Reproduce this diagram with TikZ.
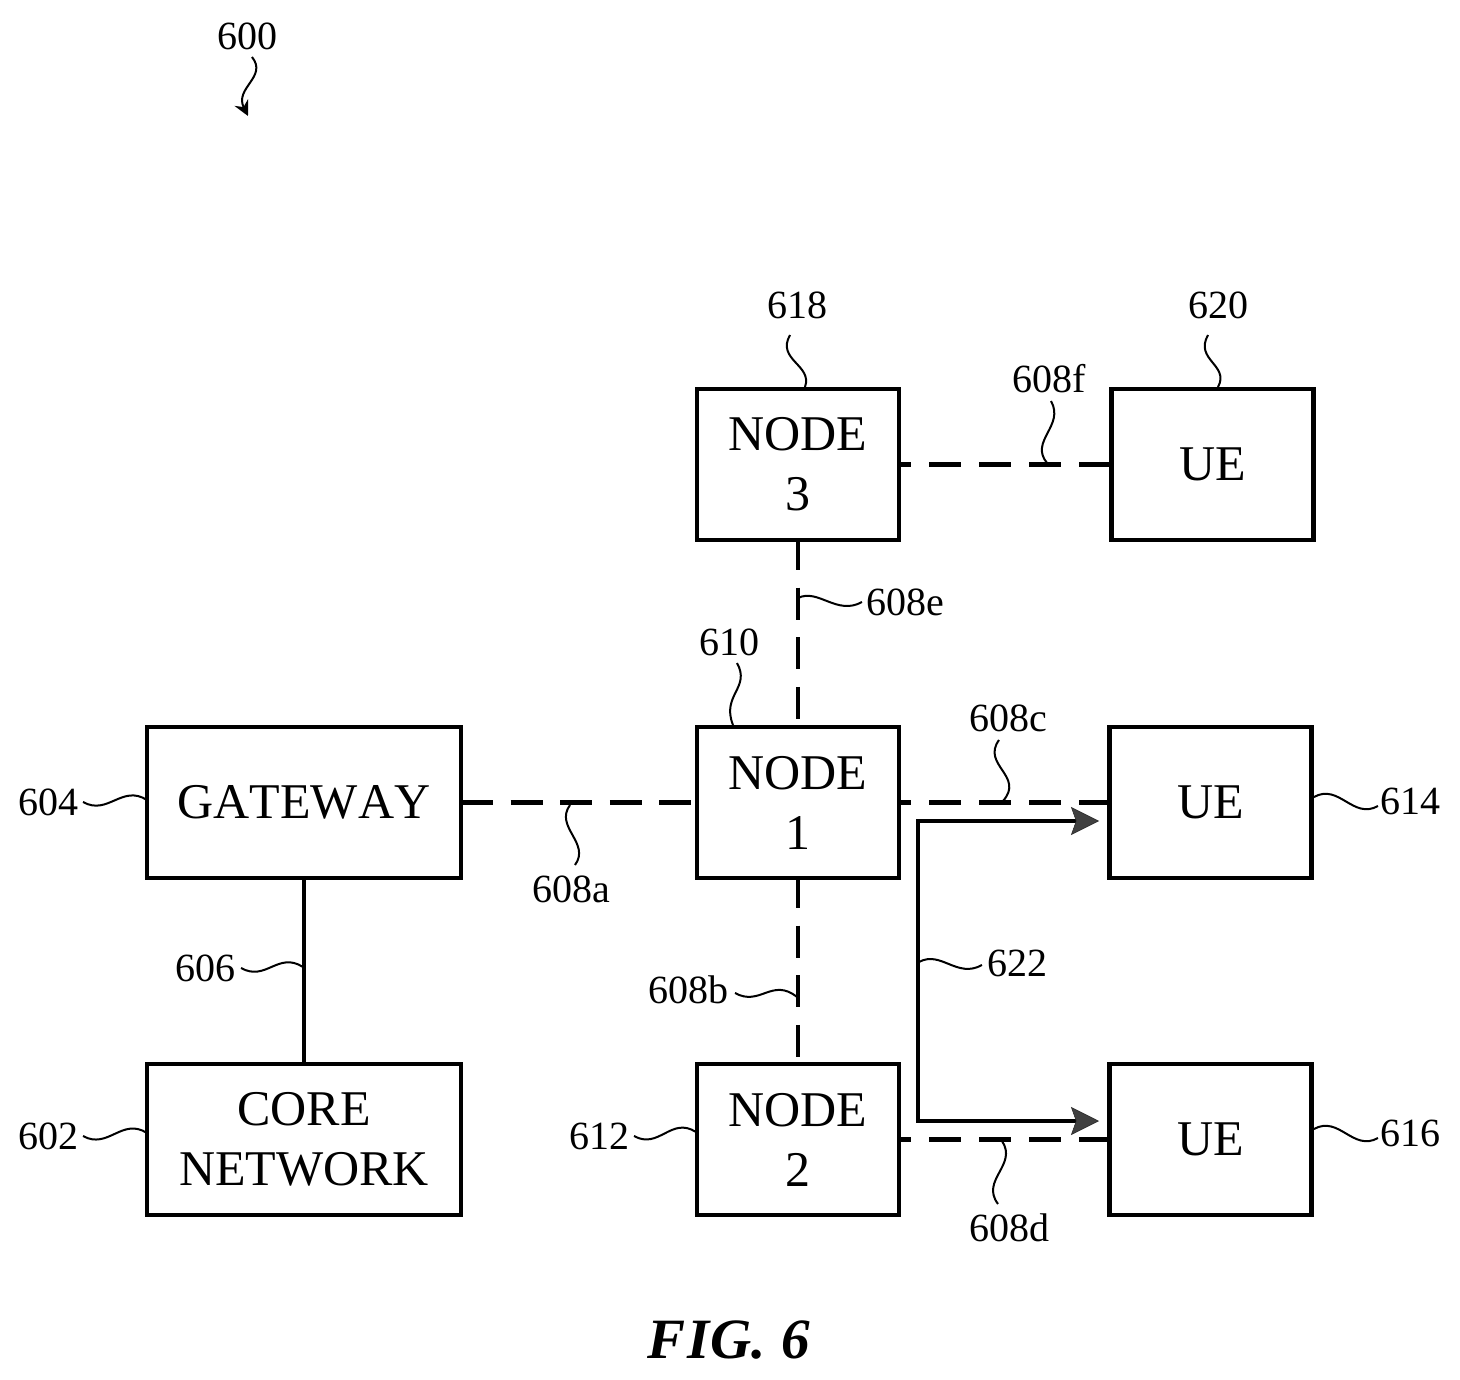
\documentclass[tikz,border=0pt]{standalone}
\usepackage{fontspec}
\setmainfont{Liberation Serif}
\usetikzlibrary{arrows.meta}
\tikzset{
  blockbox/.style={draw=black,line width=4.5pt,fill=white,inner sep=0pt,outer sep=0pt,align=center,
    font=\fontsize{50}{60}\selectfont},
  widebox/.style={blockbox,minimum width=314pt,minimum height=151pt},
  narrowbox/.style={blockbox,minimum width=202pt,minimum height=151pt},
  reflabel/.style={inner sep=0pt,outer sep=0pt,font=\fontsize{40}{44}\selectfont},
  solidlink/.style={line width=4.5pt},
  dashlink/.style={line width=4.5pt,dash pattern=on 32pt off 18pt,dash phase=20pt},
  longdashlink/.style={line width=4.5pt,dash pattern=on 32pt off 17.6pt,dash phase=#1},
  leader/.style={line width=2pt},
  flowhead/.tip={Stealth[length=28pt,width=28pt,inset=5pt,line width=0.5pt,fill=black!75,color=black!85]},
  flowlink/.style={line width=4.5pt,flowhead-flowhead},
}
\begin{document}
\begin{tikzpicture}[x=1pt,y=-1pt]
\useasboundingbox (0,0) rectangle (1460,1380);
\fill[white] (0,0) rectangle (1460,1380);

% blocks
\node[widebox,font=\fontsize{50}{60}\selectfont\addfontfeatures{Kerning=Off}] (gw) at (304,802.5) {GATEWAY};
\node[widebox] (core) at (304,1139.5) {CORE\\NETWORK};
\node[narrowbox] (n1) at (798,802.5) {NODE\\1};
\node[narrowbox] (n2) at (798,1139.5) {NODE\\2};
\node[narrowbox] (n3) at (798,464.5) {NODE\\3};
\node[narrowbox] (ue3) at (1212.5,464.5) {UE};
\node[narrowbox] (ue1) at (1210.5,802.5) {UE};
\node[narrowbox] (ue2) at (1210.5,1139.5) {UE};

% links
\draw[solidlink] (gw) -- (core);
\draw[longdashlink=0pt] (gw) -- (n1);
\draw[longdashlink=2pt] (n3) -- (n1);
\draw[longdashlink=2pt] (n1) -- (n2);
\draw[dashlink] (n1) -- (ue1);
\draw[dashlink] (n2) -- (ue2);
\draw[dashlink] (n3) -- (ue3);

% flow 622
\coordinate (ftop) at (1099,821);
\coordinate (fcornerA) at (918,821);
\coordinate (fcornerB) at (918,1121);
\coordinate (fbot) at (1099,1121);
\draw[flowlink] (ftop) -- (fcornerA) -- (fcornerB) -- (fbot);

% reference labels
\node[reflabel] (l600) at (247,36) {600};
\node[reflabel] (l618) at (797,305) {618};
\node[reflabel] (l620) at (1218,305) {620};
\node[reflabel] (l608f) at (1049,379) {608f};
\node[reflabel] (l608e) at (905,602) {608e};
\node[reflabel] (l610) at (729,642) {610};
\node[reflabel] (l608c) at (1008,718) {608c};
\node[reflabel] (l608a) at (571,889) {608a};
\node[reflabel] (l604) at (48,802) {604};
\node[reflabel] (l606) at (205,968) {606};
\node[reflabel] (l602) at (48,1136) {602};
\node[reflabel] (l608b) at (688,990) {608b};
\node[reflabel] (l622) at (1017,963) {622};
\node[reflabel] (l614) at (1410,801) {614};
\node[reflabel] (l612) at (599,1136) {612};
\node[reflabel] (l616) at (1410,1133) {616};
\node[reflabel] (l608d) at (1009,1228) {608d};
\node[inner sep=0pt,outer sep=0pt,font=\fontsize{57}{60}\selectfont\bfseries\itshape] (fig) at (729,1340) {F\kern1.5pt I\kern1.5pt G.\kern1.5pt\ 6};

% free ends of the leaders
\coordinate (e600) at (248,116);
\coordinate (e618) at (805,387);
\coordinate (e620) at (1218,387);
\coordinate (e608f) at (1047,463);
\coordinate (e608e) at (798,598);
\coordinate (e610) at (733,725);
\coordinate (e608c) at (1003,801);
\coordinate (e608a) at (570,805);
\coordinate (e604) at (147,800);
\coordinate (e606) at (303,967);
\coordinate (e602) at (147,1133);
\coordinate (e608b) at (797,997);
\coordinate (e622) at (919,962);
\coordinate (e614) at (1314,797);
\coordinate (e612) at (696,1132);
\coordinate (e616) at (1314,1129);
\coordinate (e608d) at (1002,1141);

% leaders
\draw[leader,-{Stealth[length=15pt,width=15pt,inset=5pt]}] (252,57) .. controls +(16,20) and +(-14,-28) .. (e600);
\draw[leader] (790,335) .. controls +(-14,25) and +(8,-22) .. (e618);
\draw[leader] (1208,335) .. controls +(-14,25) and +(12,-22) .. (e620);
\draw[leader] (1051,401) .. controls +(14,25) and +(-18,-22) .. (e608f);
\draw[leader] (862,602) .. controls +(-25,14) and +(20,-10) .. (e608e);
\draw[leader] (737,663) .. controls +(14,25) and +(-12,-30) .. (e610);
\draw[leader] (999,740) .. controls +(-18,25) and +(22,-25) .. (e608c);
\draw[leader] (575,865) .. controls +(16,-22) and +(-16,22) .. (e608a);
\draw[leader] (83,802) .. controls +(25,14) and +(-25,-16) .. (e604);
\draw[leader] (241,968) .. controls +(25,14) and +(-25,-16) .. (e606);
\draw[leader] (83,1136) .. controls +(25,14) and +(-25,-16) .. (e602);
\draw[leader] (735,993) .. controls +(25,14) and +(-25,-20) .. (e608b);
\draw[leader] (982,965) .. controls +(-25,14) and +(22,-12) .. (e622);
\draw[leader] (1378,806) .. controls +(-25,14) and +(25,-14) .. (e614);
\draw[leader] (634,1136) .. controls +(25,14) and +(-25,-16) .. (e612);
\draw[leader] (1378,1138) .. controls +(-25,14) and +(25,-14) .. (e616);
\draw[leader] (998,1204) .. controls +(-18,-24) and +(16,24) .. (e608d);
\end{tikzpicture}
\end{document}
